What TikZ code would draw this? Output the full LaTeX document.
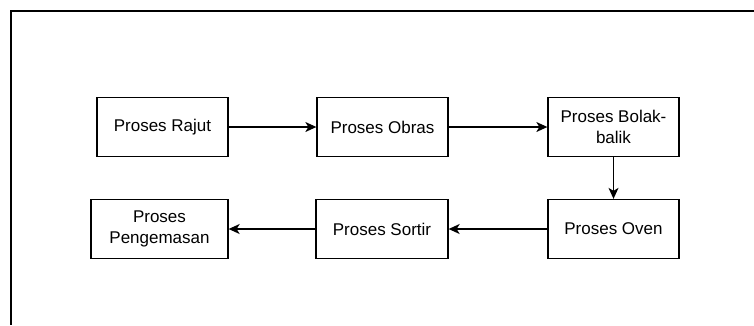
\documentclass[tikz,border=0pt]{standalone}
\usepackage{fontspec}
\setmainfont{Liberation Sans}
\usetikzlibrary{arrows.meta}
\begin{document}
\begin{tikzpicture}[x=1pt,y=-1pt,
  procbox/.style={draw=black,line width=1.3pt,fill=white,minimum height=59pt,align=center,inner sep=2pt,
    font=\fontsize{17}{21}\selectfont},
  flow/.style={draw=black,line width=1.3pt,-{Stealth[length=11pt,width=10pt,inset=3pt]}}]
\useasboundingbox (0,0) rectangle (754,325);
\draw[line width=1.6pt] (754,11) -- (11,11) -- (11,325);
\node[procbox,minimum width=131pt] (rajut) at (162.5,127) {Proses Rajut};
\node[procbox,minimum width=131pt] (obras) at (382.5,127) {Proses Obras};
\node[procbox,minimum width=131pt] (bolak) at (613.5,127) {Proses Bolak-\\balik};
\node[procbox,minimum width=131pt] (oven) at (613.5,229) {Proses Oven};
\node[procbox,minimum width=132pt] (sortir) at (382,229) {Proses Sortir};
\node[procbox,minimum width=137pt] (kemas) at (159.5,229) {Proses\\Pengemasan};
\draw[flow] (rajut) -- (obras);
\draw[flow] (obras) -- (bolak);
\draw[flow] (bolak) -- (oven);
\draw[flow] (oven) -- (sortir);
\draw[flow] (sortir) -- (kemas);
\end{tikzpicture}
\end{document}
